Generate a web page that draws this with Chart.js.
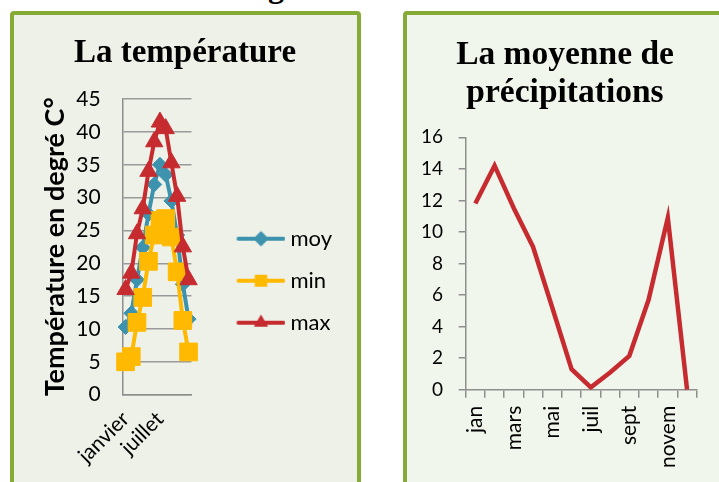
<!DOCTYPE html>
<html>
<head>
<meta charset="utf-8">
<script src="https://cdn.jsdelivr.net/npm/chart.js@4.4.1/dist/chart.umd.min.js"></script>
<style>
  html, body { margin: 0; padding: 0; background: #fff; overflow: hidden; }
  body { width: 719px; height: 482px; position: relative; }
  .panel { position: absolute; top: 11px; border: 4px solid #86aa36; border-radius: 4px; box-sizing: border-box; height: 520px; }
  #p1 { left: 10px; width: 351px; background: #eef1e8; }
  #p2 { left: 403px; width: 340px; background: #f1f6ec; }
  .box { position: absolute; left: 0; top: 0; }
  #p1 .box { width: 343px; height: 467px; }
  #p2 .box { width: 316px; height: 467px; }
  #cut { position: absolute; left: 268px; top: -30px; font: bold 32px/32px "Liberation Serif", serif; color: #000; }
</style>
</head>
<body>
<div id="cut">g</div>
<div class="panel" id="p1"><div class="box"><canvas id="chart1"></canvas></div></div>
<div class="panel" id="p2"><div class="box"><canvas id="chart2"></canvas></div></div>
<script>
// temperature chart
const months = ['janvier', 'février', 'mars', 'avril', 'mai', 'juin', 'juillet', 'août', 'septembre', 'octobre', 'novembre', 'décembre'];
const tempMoy = [10.3, 12.4, 17.5, 22.4, 27.5, 32, 35, 33.5, 29.5, 24.3, 16.8, 11.5];
const tempMin = [5, 5.8, 11, 14.8, 20.3, 24.3, 26.5, 26.8, 24, 18.7, 11.3, 6.5];
const tempMax = [16, 18.5, 24.5, 28.3, 34, 38.5, 41.5, 40.5, 35.3, 30.2, 22.5, 17.5];

// precipitation chart
const precipMonths = ['jan', 'fév', 'mars', 'avr', 'mai', 'juin', 'juil', 'août', 'sept', 'oct', 'novem', 'déc'];
const precip = [11.8, 14.2, 11.5, 9.05, 5.2, 1.3, 0.15, 1.1, 2.15, 5.7, 10.9, 0];

const BLUE = '#3d93ae';
const YELLOW = '#ffb900';
const RED = '#c62b30';
const AXIS = '#8e8e8e';
const SANS = 'Lato';
const SERIF = '"Liberation Serif", "Times New Roman", serif';

// legend icon: line with marker in the middle (Excel style)
function legendIcon(color, style, radius) {
    const c = document.createElement('canvas');
    c.width = 80;
    c.height = 22;
    const g = c.getContext('2d');
    g.strokeStyle = color;
    g.lineWidth = 4;
    g.lineCap = 'round';
    g.beginPath();
    g.moveTo(33, 11);
    g.lineTo(78, 11);
    g.stroke();
    g.fillStyle = color;
    Chart.helpers.drawPoint(g, { pointStyle: style, radius: radius, borderWidth: 0, rotation: 0 }, 55.5, 11);
    g.fill();
    return c;
}

const seriesStyle = [
    { label: 'moy', data: tempMoy, color: BLUE, style: 'rectRot', r: 7.5, lr: 7.5, order: 3 },
    { label: 'min', data: tempMin, color: YELLOW, style: 'rect', r: 12.5, lr: 8.5, order: 2 },
    { label: 'max', data: tempMax, color: RED, style: 'triangle', r: 10, lr: 8, order: 1 },
];
const icons = seriesStyle.map(s => legendIcon(s.color, s.style, s.lr));

new Chart(document.getElementById('chart1'), {
    type: 'line',
    data: {
        labels: months,
        datasets: seriesStyle.map(s => ({
            label: s.label,
            data: s.data,
            order: s.order,
            borderColor: s.color,
            backgroundColor: s.color,
            borderWidth: 4,
            pointStyle: s.style,
            pointRadius: s.r,
            pointBorderWidth: 1,
            pointBackgroundColor: s.color,
            pointBorderColor: s.color,
            tension: 0,
        })),
    },
    options: {
        responsive: true,
        maintainAspectRatio: false,
        animation: false,
        layout: { padding: { left: 14, right: 15, top: 0, bottom: 10 } },
        scales: {
            x: {
                offset: true,
                grid: { display: false },
                border: { display: true, color: AXIS, width: 1.5 },
                ticks: {
                    autoSkip: false,
                    minRotation: 45,
                    maxRotation: 45,
                    color: '#000',
                    font: { family: SANS, size: 21 },
                    padding: 4,
                    callback: function(v, i) { return i % 6 === 0 ? months[i] : ''; }
                }
            },
            y: {
                min: 0,
                max: 45,
                afterFit: function(scale) { scale.width = 94.7; },
                grid: { color: '#9a9a9a', lineWidth: 1.5, drawTicks: false },
                border: { display: true, color: AXIS, width: 1.5 },
                ticks: {
                    stepSize: 5,
                    color: '#000',
                    padding: 22,
                    font: { family: SANS, size: 21 }
                },
                title: {
                    display: true,
                    text: 'Température en degré C°',
                    color: '#000',
                    font: { family: SANS, size: 27, weight: 'bold' },
                    padding: { top: 11, bottom: 8 }
                }
            }
        },
        plugins: {
            title: {
                display: true,
                text: 'La température',
                color: '#000',
                font: { family: SERIF, size: 33, weight: 'bold', lineHeight: 1.2 },
                padding: { top: 19, bottom: 25.5 }
            },
            legend: {
                position: 'right',
                align: 'start',
                maxWidth: 220,
                title: { display: true, text: '', font: { size: 12, lineHeight: 1 }, padding: { top: 180.7, bottom: 0 } },
                labels: {
                    usePointStyle: true,
                    pointStyleWidth: 68,
                    padding: 20,
                    color: '#000',
                    font: { family: SANS, size: 22 },
                    generateLabels: function(chart) {
                        return chart.data.datasets.map((ds, i) => ({
                            text: ds.label,
                            pointStyle: icons[i],
                            fillStyle: ds.borderColor,
                            strokeStyle: ds.borderColor,
                            lineWidth: 0,
                            fontColor: '#000',
                            hidden: false,
                            datasetIndex: i,
                        }));
                    }
                }
            },
            tooltip: { enabled: false }
        }
    }
});

new Chart(document.getElementById('chart2'), {
    type: 'line',
    data: {
        labels: precipMonths,
        datasets: [{
            label: 'précipitations',
            data: precip,
            borderColor: RED,
            borderWidth: 4.5,
            pointRadius: 0,
            tension: 0,
        }],
    },
    options: {
        responsive: true,
        maintainAspectRatio: false,
        animation: false,
        layout: { padding: { left: 6.3, right: 6.3, top: 0, bottom: 6 } },
        scales: {
            x: {
                offset: true,
                grid: { offset: true, drawOnChartArea: false, drawTicks: true, tickLength: 8, color: AXIS, lineWidth: 1.5 },
                border: { display: true, color: AXIS, width: 1.5 },
                ticks: {
                    autoSkip: false,
                    minRotation: 90,
                    maxRotation: 90,
                    color: '#000',
                    padding: 8,
                    font: { family: SANS, size: 21 },
                    callback: function(v, i) { return i % 2 === 0 ? precipMonths[i] : ''; }
                }
            },
            y: {
                min: 0,
                max: 16,
                afterFit: function(scale) { scale.width = 52.4; },
                grid: { drawOnChartArea: false, drawTicks: true, tickLength: 7, color: AXIS, lineWidth: 1.5 },
                border: { display: true, color: AXIS, width: 1.5 },
                ticks: {
                    stepSize: 2,
                    color: '#000',
                    padding: 15.7,
                    font: { family: SANS, size: 19 }
                }
            },
            // empty space on the right of the plot
            y2: {
                position: 'right',
                display: true,
                afterFit: function(scale) { scale.width = 20; },
                grid: { display: false },
                border: { display: false },
                ticks: { display: false }
            }
        },
        plugins: {
            title: {
                display: true,
                text: ['La moyenne de', 'précipitations'],
                color: '#000',
                font: { family: SERIF, size: 33.5, weight: 'bold', lineHeight: 1.134 },
                padding: { top: 21, bottom: 25.3 }
            },
            legend: { display: false },
            tooltip: { enabled: false }
        }
    }
});
</script>
</body>
</html>
